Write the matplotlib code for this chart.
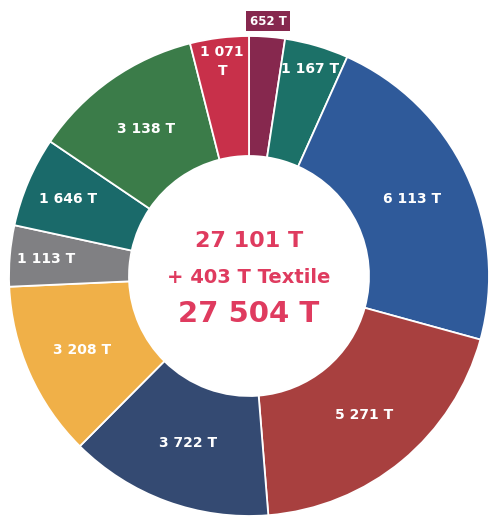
import numpy as np
import matplotlib.pyplot as plt

# ── Data (clockwise from top) ────────────────────────────────────────────────
values = [652, 1167, 6113, 5271, 3722, 3208, 1113, 1646, 3138, 1071]
labels = ["652 T", "1 167 T", "6 113 T", "5 271 T", "3 722 T",
          "3 208 T", "1 113 T", "1 646 T", "3 138 T", "1 071\nT"]
colors = ["#86284e", "#1c7168", "#2f5a9a", "#a8403f", "#344a72",
          "#f0b048", "#808083", "#1a6a6a", "#3b7c49", "#c8304a"]
center_lines = ["27 101 T", "+ 403 T Textile", "27 504 T"]

# label distance from centre, as fraction of outer radius
label_r = [1.065, 0.90, 0.75, 0.75, 0.74, 0.76, 0.85, 0.82, 0.75, 0.90]

RED = "#df3b5f"

fig = plt.figure(figsize=(4.92, 5.19), dpi=100)
ax = fig.add_axes([9 / 492, 3 / 519, 480 / 492, 480 / 519])

wedges, _ = ax.pie(values, colors=colors, startangle=90, counterclock=False,
                   radius=1.0,
                   wedgeprops=dict(width=0.5, edgecolor="white", linewidth=1.3))

for w, lab, r, col in zip(wedges, labels, label_r, colors):
    ang = np.deg2rad((w.theta1 + w.theta2) / 2)
    x, y = r * np.cos(ang), r * np.sin(ang)
    if r > 1:
        ax.text(x, y, lab, ha="center", va="center", color="white",
                fontsize=8.5, fontweight="bold", clip_on=False,
                bbox=dict(boxstyle="square,pad=0.3", fc=col, ec="none"))
    else:
        ax.text(x, y, lab, ha="center", va="center", color="white",
                fontsize=10, fontweight="bold", linespacing=1.5)

ax.text(0, 0.145, center_lines[0], ha="center", va="center", color=RED,
        fontsize=16, fontweight="bold")
ax.text(0, -0.005, center_lines[1], ha="center", va="center", color=RED,
        fontsize=14, fontweight="bold")
ax.text(0, -0.16, center_lines[2], ha="center", va="center", color=RED,
        fontsize=21, fontweight="bold")

ax.set_xlim(-1, 1)
ax.set_ylim(-1, 1)
ax.set_aspect("equal")
ax.axis("off")

fig.savefig("out.png", dpi=100)
